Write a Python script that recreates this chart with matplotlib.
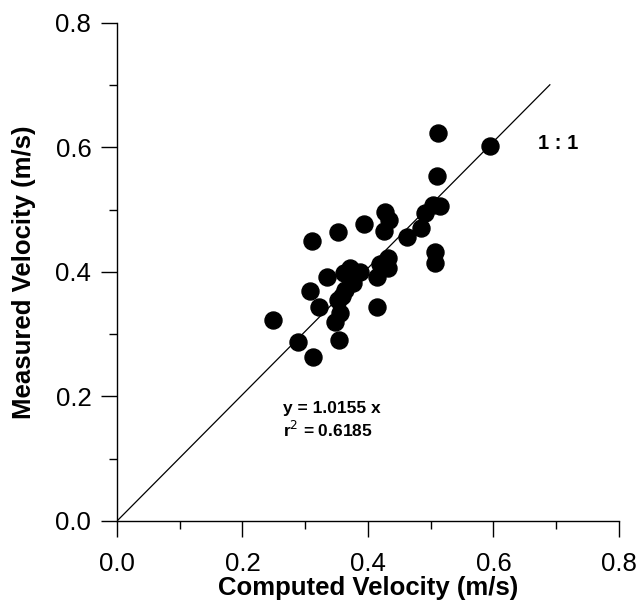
import matplotlib
matplotlib.use("Agg")
import matplotlib.pyplot as plt
from matplotlib.ticker import MultipleLocator

# computed vs measured velocity (m/s)
computed = [0.512, 0.594, 0.510, 0.504, 0.515, 0.491, 0.484, 0.462, 0.427, 0.433,
            0.426, 0.394, 0.507, 0.507, 0.432, 0.432, 0.419, 0.414, 0.371, 0.387,
            0.376, 0.363, 0.352, 0.355, 0.347, 0.414, 0.311, 0.352, 0.335, 0.308,
            0.322, 0.249, 0.288, 0.354, 0.312, 0.362, 0.358]
measured = [0.623, 0.602, 0.554, 0.508, 0.506, 0.495, 0.471, 0.456, 0.496, 0.484,
            0.466, 0.477, 0.432, 0.414, 0.422, 0.406, 0.413, 0.392, 0.406, 0.400,
            0.382, 0.371, 0.355, 0.334, 0.320, 0.344, 0.450, 0.464, 0.392, 0.369,
            0.344, 0.323, 0.288, 0.291, 0.263, 0.398, 0.362]
slope = 1.0155
r2 = 0.6185
line_x = [0.0, 0.69]

plt.rcParams['font.family'] = ['Liberation Sans', 'DejaVu Sans']

fig = plt.figure(figsize=(6.38, 6.03), dpi=100)
ax = fig.add_axes([0.1834, 0.136, 0.7866, 0.8259])

ax.plot(line_x, [slope * v for v in line_x], color='black', lw=0.9)
ax.scatter(computed, measured, s=150, color='black', zorder=3, clip_on=False)

ax.set_xlim(0, 0.8)
ax.set_ylim(0, 0.8)
ax.xaxis.set_major_locator(MultipleLocator(0.2))
ax.yaxis.set_major_locator(MultipleLocator(0.2))
ax.xaxis.set_minor_locator(MultipleLocator(0.1))
ax.yaxis.set_minor_locator(MultipleLocator(0.1))
ax.xaxis.set_major_formatter(plt.FormatStrFormatter('%.1f'))
ax.yaxis.set_major_formatter(plt.FormatStrFormatter('%.1f'))
ax.tick_params(which='major', length=11.5, width=1, labelsize=18.5)
ax.tick_params(axis='x', which='major', pad=11)
ax.tick_params(axis='y', which='major', pad=7)
ax.tick_params(which='minor', length=5.5, width=1)

for side in ['top', 'right']:
    ax.spines[side].set_visible(False)
for side in ['left', 'bottom']:
    ax.spines[side].set_linewidth(1)

ax.set_xlabel('Computed Velocity (m/s)', fontsize=18.5, fontweight='bold', labelpad=0)
ax.set_ylabel('Measured Velocity (m/s)', fontsize=18.5, fontweight='bold', labelpad=14)

ax.text(0.671, 0.607, '1 : 1', fontsize=14.5, fontweight='bold', va='center')
ax.text(0.265, 0.18, 'y = %.4f x' % slope, fontsize=12.5, fontweight='bold', va='center')
ax.text(0.265, 0.147, 'r$^2$ = %.4f' % r2, fontsize=12.5, fontweight='bold', va='center')

fig.savefig('out.png', dpi=100)
